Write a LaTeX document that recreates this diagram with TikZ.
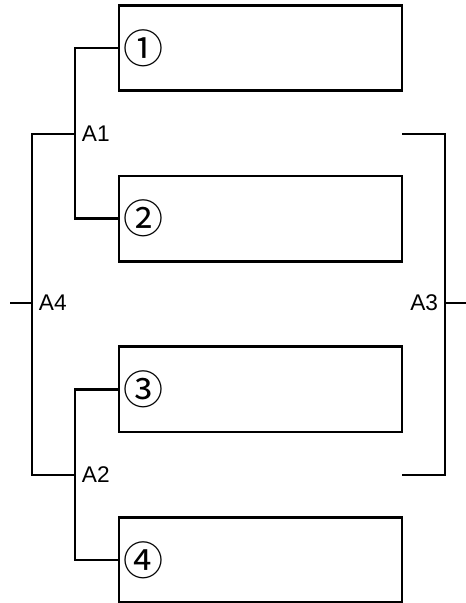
\documentclass[tikz,border=0pt]{standalone}
\usepackage{fontspec}
\setmainfont{Liberation Sans}
\newfontfamily\cjk{Noto Sans CJK JP}
\usetikzlibrary{positioning}

\tikzstyle{line} = [line width=1.8pt]
\tikzstyle{slot} = [
        rectangle,
        minimum width=212pt,
        minimum height=64pt,
        text width=205pt,
        align=left,
        inner xsep=1.5pt,
        line width=1.8pt,
        draw=black,
        font=\cjk\fontsize{30}{30}\selectfont
    ]
\tikzstyle{lbl} = [font=\fontsize{17}{17}\selectfont, inner sep=5pt]

\begin{document}
\begin{tikzpicture}[x=0.75pt, y=-0.75pt, node distance=128pt]
        \useasboundingbox (0,0) rectangle (465,603);
        \node [slot] (b1) at (260.5,48) {①};
        \node [slot, below of=b1] (b2) {②};
        \node [slot, below of=b2] (b3) {③};
        \node [slot, below of=b3] (b4) {④};
        % left brackets
        \coordinate (a1) at (75,134);
        \coordinate (a2) at (75,475);
        \coordinate (a4) at (32,303);
        \draw [line] (b1.west) -| (a1) |- (b2.west);
        \draw [line] (b3.west) -| (a2) |- (b4.west);
        \draw [line] (a1) -| (a4) |- (a2);
        \draw [line] (a4) -- ++(-22,0);
        \node [lbl, right] at (a1) {A1};
        \node [lbl, right] at (a2) {A2};
        \node [lbl, right] at (a4) {A4};
        % right bracket
        \coordinate (r1) at (402,134);
        \coordinate (r2) at (402,475);
        \coordinate (a3) at (445,303);
        \draw [line] (r1) -| (a3) |- (r2);
        \draw [line] (a3) -- ++(22,0);
        \node [lbl, left] at (a3) {A3};
    \end{tikzpicture}
\end{document}
